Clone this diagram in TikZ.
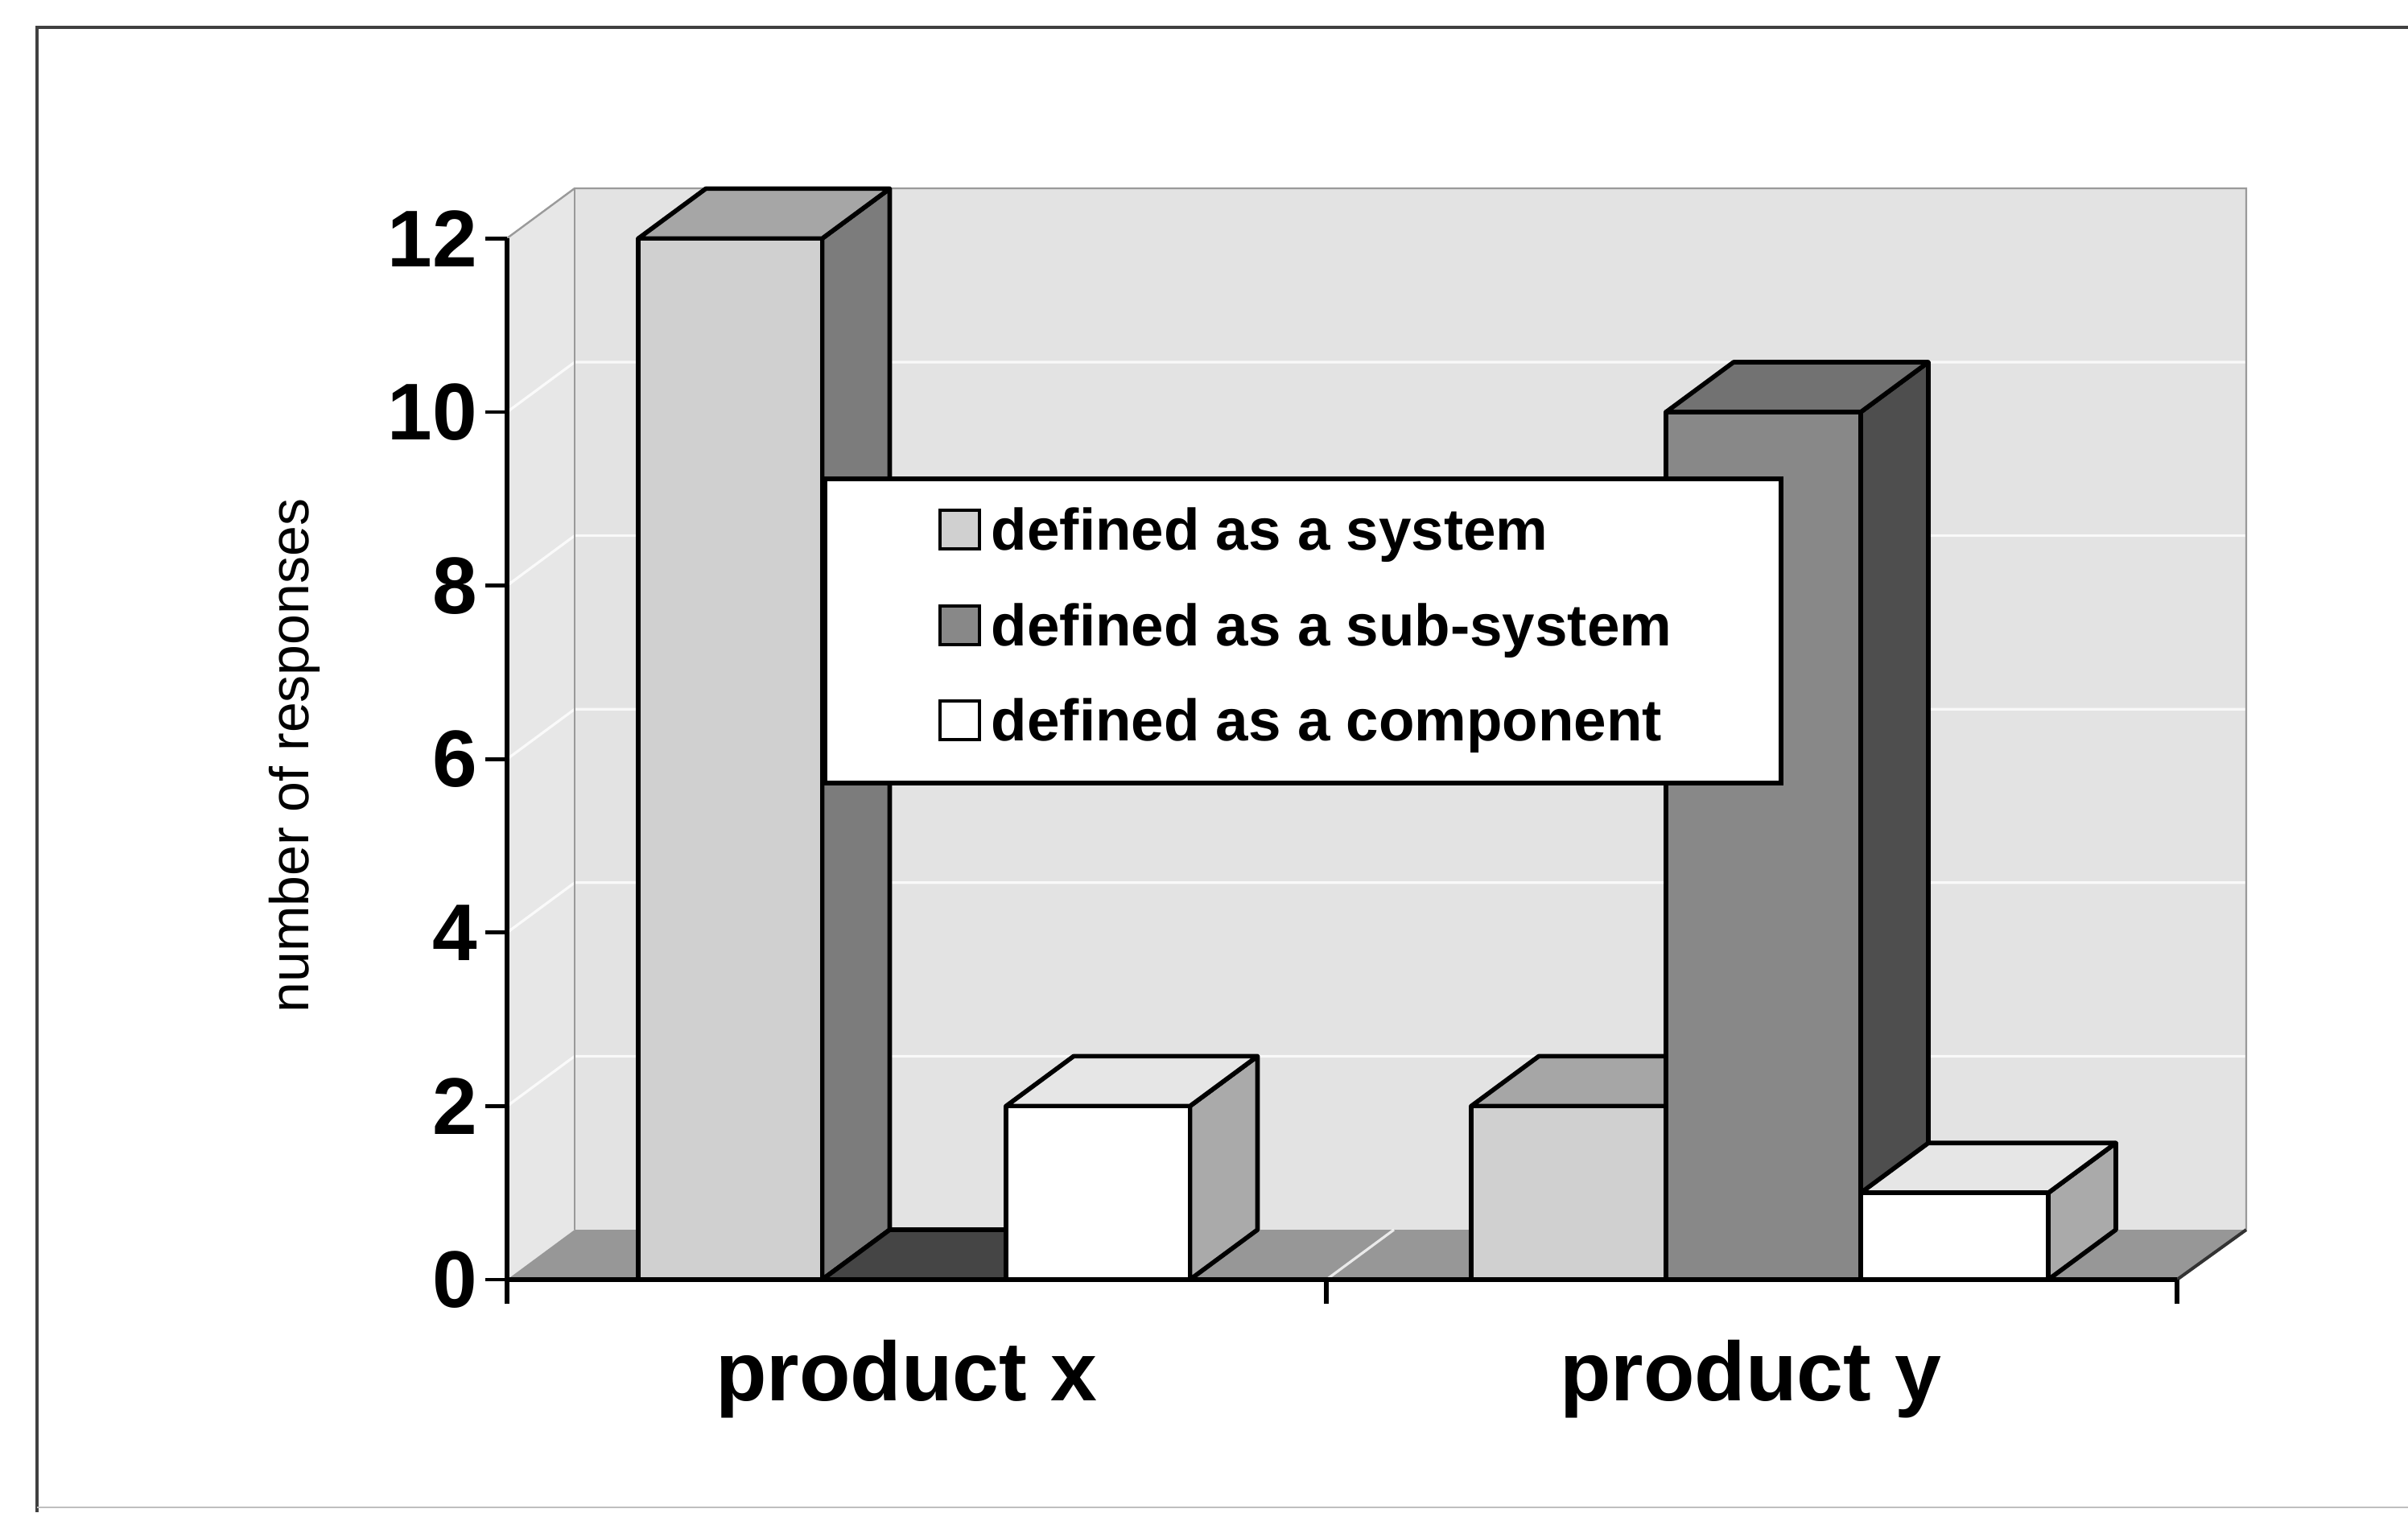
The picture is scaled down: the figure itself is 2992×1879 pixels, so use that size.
\documentclass[tikz,border=0pt]{standalone}
\usepackage{fontspec}
\setmainfont{Liberation Sans}

% shades of the chart
\definecolor{wallback}{HTML}{E3E3E3}
\definecolor{wallside}{HTML}{E7E7E7}
\definecolor{floorc}{HTML}{979797}
\definecolor{edgegrey}{HTML}{9A9A9A}
\definecolor{sysfront}{HTML}{D0D0D0}
\definecolor{systop}{HTML}{A6A6A6}
\definecolor{sysside}{HTML}{7C7C7C}
\definecolor{subfront}{HTML}{888888}
\definecolor{subtop}{HTML}{727272}
\definecolor{subside}{HTML}{4E4E4E}
\definecolor{subflat}{HTML}{454545}
\definecolor{compfront}{HTML}{FFFFFF}
\definecolor{comptop}{HTML}{E6E6E6}
\definecolor{compside}{HTML}{AAAAAA}

% one 3-D column: left x, right x, top y, front, top and side fills
\newcommand\colbar[6]{%
  \filldraw[barline, fill=#6] (#2,#3) -- ++(84,-62) -- (#2+84,1528) -- (#2,1590) -- cycle;
  \filldraw[barline, fill=#5] (#1,#3) -- (#2,#3) -- ++(84,-62) -- (#1+84,#3-62) -- cycle;
  \filldraw[barline, fill=#4] (#1,#3) rectangle (#2,1590);
}

\begin{document}
\begin{tikzpicture}[x=0.25pt, y=-0.25pt,
  barline/.style={draw=black, line width=1.4pt, line join=round},
  gridline/.style={draw=white, opacity=0.8, line width=0.8pt},
  wallrim/.style={draw=edgegrey, line width=0.6pt},
  ticklabel/.style={font=\bfseries\fontsize{25}{25}\selectfont, anchor=east, inner sep=0pt},
  catlabel/.style={font=\bfseries\fontsize{26}{26}\selectfont, anchor=base, inner sep=0pt},
  legtext/.style={font=\bfseries\fontsize{18.2}{18.2}\selectfont, anchor=base west, inner sep=0pt},
  legkey/.style={draw=black, line width=1pt}]

\useasboundingbox (0,0) rectangle (2992,1879);
\fill[white] (0,0) rectangle (2992,1879);

% outer frame
\draw[line width=1pt, black!75] (2992,34) -- (46,34) -- (46,1879);
\draw[line width=0.6pt, black!25] (46,1873) -- (2992,1873);

% walls and floor
\fill[wallback] (714,234) rectangle (2791,1528);
\fill[wallside] (630,296) -- (714,234) -- (714,1528) -- (630,1590) -- cycle;
\foreach \v in {2,4,...,10}{
  \pgfmathsetmacro\yy{1590-107.8*\v}
  \draw[gridline] (630,\yy) -- (714,\yy-62) -- (2791,\yy-62);
}
\draw[wallrim] (630,296) -- (714,234) -- (2791,234) -- (2791,1528);
\draw[wallrim] (714,234) -- (714,1528);
\fill[floorc] (630,1590) -- (714,1528) -- (2791,1528) -- (2705,1590) -- cycle;
\draw[gridline] (1648,1590) -- (1732,1528);
\draw[line width=1pt, black!80] (2705,1590) -- (2791,1528);

% product x columns
\colbar{793}{1021.5}{296.4}{sysfront}{systop}{sysside}
\filldraw[barline, fill=subflat] (1021.5,1590) -- (1250,1590) -- ++(84,-62) -- (1105.5,1528) -- cycle;
\colbar{1250}{1478.5}{1374.4}{compfront}{comptop}{compside}

% product y columns
\colbar{1828}{2070}{1374.4}{sysfront}{systop}{sysside}
\colbar{2070}{2312}{512}{subfront}{subtop}{subside}
\colbar{2312}{2545}{1482.2}{compfront}{comptop}{compside}

% axes and ticks
\draw[line width=1.3pt] (630,296) -- (630,1590);
\foreach \v in {0,2,...,12}{
  \pgfmathsetmacro\yy{1590-107.8*\v}
  \draw[line width=1.2pt] (603,\yy) -- (630,\yy);
}
\draw[line width=1.7pt] (630,1590) -- (2705,1590);
\foreach \xx in {630,1648,2705}
  \draw[line width=1.3pt] (\xx,1590) -- (\xx,1620);

% value labels
\node[ticklabel] (t12) at (594,296.4) {12};
\node[ticklabel] (t10) at (594,512) {10};
\node[ticklabel] (t8)  at (594,727.6) {8};
\node[ticklabel] (t6)  at (594,943.2) {6};
\node[ticklabel] (t4)  at (594,1158.8) {4};
\node[ticklabel] (t2)  at (594,1374.4) {2};
\node[ticklabel] (t0)  at (594,1590) {0};

\node[rotate=90, font=\fontsize{17}{17}\selectfont, inner sep=0pt] (ytitle) at (366,939) {number of responses};

\node[catlabel] (px) at (1126,1740) {product x};
\node[catlabel] (py) at (2175,1740) {product y};

% legend
\filldraw[fill=white, draw=black, line width=1.3pt] (1025,595) rectangle (2213,973);
\filldraw[legkey, fill=sysfront]  (1168,634) rectangle (1217,682);
\filldraw[legkey, fill=subfront]  (1168,753) rectangle (1217,801);
\filldraw[legkey, fill=compfront] (1168,871) rectangle (1217,919);
\node[legtext] (l1) at (1231,683) {defined as a system};
\node[legtext] (l2) at (1231,802) {defined as a sub-system};
\node[legtext] (l3) at (1231,920) {defined as a component};

\end{tikzpicture}
\end{document}
